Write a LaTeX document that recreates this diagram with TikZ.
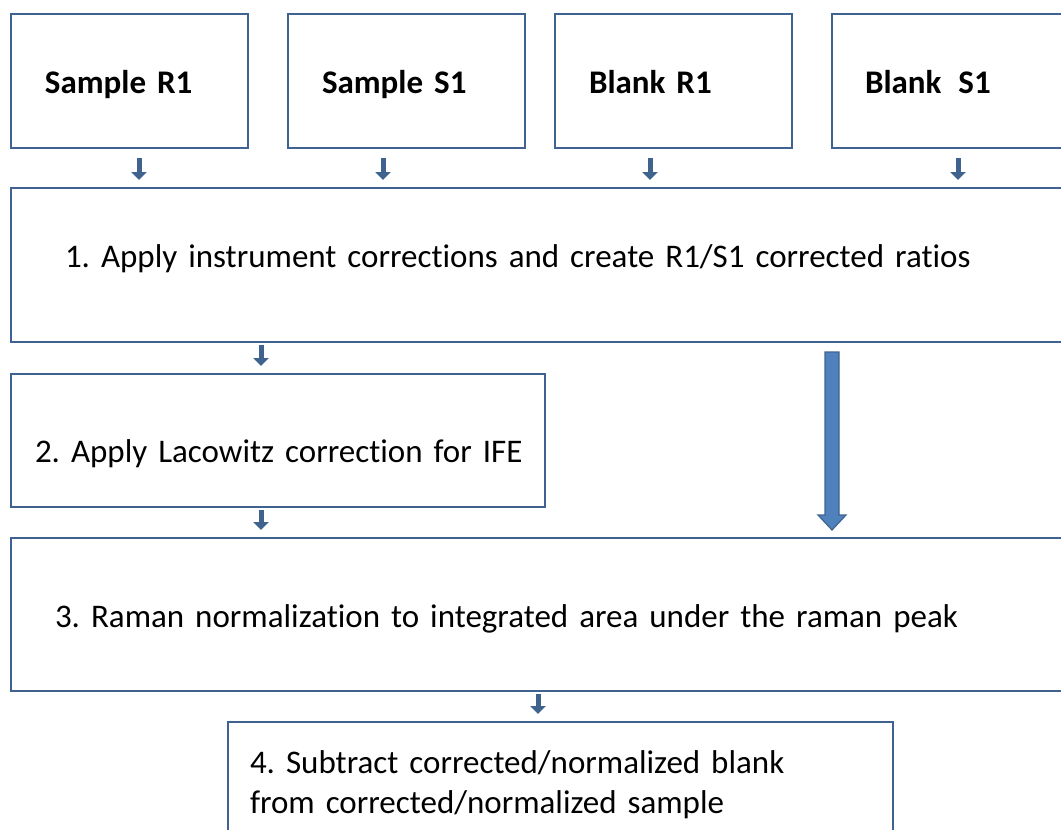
\documentclass[tikz,border=0pt]{standalone}
\usepackage{fontspec}
\setmainfont{Carlito}[Ligatures=NoCommon]
\usetikzlibrary{arrows.meta, calc}

\definecolor{boxline}{HTML}{3F6290}
\definecolor{arrowline}{HTML}{40628F}
\definecolor{arrowfill}{HTML}{4F81BD}

\frenchspacing
\begin{document}
\begin{tikzpicture}[
		x=1pt, y=-1pt,
		every node/.style={font=\fontsize{33}{40}\selectfont},
		box/.style={rectangle, draw=boxline, line width=2.5pt, fill=white, outer sep=0pt, inner ysep=0pt, align=left, anchor=north west},
		sample/.style={box, font=\fontsize{33}{40}\selectfont\bfseries, inner xsep=34pt, text width=169pt, text height=79pt, text depth=55pt},
		link/.style={draw=arrowline, line width=5pt, -{Triangle[width=15pt,length=8pt]}, shorten <=3pt, shorten >=8pt},
		bigarrow/.style={fill=arrowfill, draw=arrowline, line width=1.2pt, line join=miter}
		]
		\useasboundingbox (0,0) rectangle (1061,830);
		\clip (0,0) rectangle (1061,830);
		
		% Measurements
		\node[sample] (r1) at (11,14) {Sample R1};
		\node[sample] (s1) at (288,14) {Sample S1};
		\node[sample] (br1) at (555,14) {Blank R1};
		\node[sample, inner xsep=33pt, text width=171pt] (bs1) at (832,14) {Blank\hspace{17pt}S1};
		
		% Processing steps
		\node[box, inner xsep=54pt, text width=992pt, text height=79pt, text depth=75pt] (step1) at (11,188)
			{1. Apply instrument corrections and create R1/S1 corrected ratios};
		\node[box, inner xsep=24pt, text width=486pt, text height=88pt, text depth=45pt] (step2) at (11,374)
			{\mbox{2. Apply Lacowitz correction for IFE}};
		\node[box, inner xsep=44pt, text width=1012pt, text height=89pt, text depth=64pt] (step3) at (11,538)
			{3. Raman normalization to integrated area under the raman peak};
		\node[box, inner xsep=22pt, text width=621pt, text height=51pt, text depth=110pt] (step4) at (228,722)
			{4. Subtract corrected/normalized blank\\from corrected/normalized sample};
		
		% Arrows into step 1
		\draw[link, shorten <=10pt] ([xshift=9.5pt]r1.south) -- ([xshift=9.5pt]r1.south |- step1.north);
		\draw[link, shorten <=10pt] ([xshift=-23.5pt]s1.south) -- ([xshift=-23.5pt]s1.south |- step1.north);
		\draw[link, shorten <=10pt] ([xshift=-23.5pt]br1.south) -- ([xshift=-23.5pt]br1.south |- step1.north);
		\draw[link, shorten <=10pt] ([xshift=7.5pt]bs1.south) -- ([xshift=7.5pt]bs1.south |- step1.north);
		
		% Step to step
		\coordinate (joinA) at ([xshift=-17pt]step2.north);
		\coordinate (joinB) at ([xshift=-17pt]step2.south);
		\coordinate (joinC) at ([xshift=-22.5pt]step4.north);
		\draw[link] (step1.south -| joinA) -- (joinA);
		\draw[link] (joinB) -- (step3.north -| joinB);
		\draw[link] (step3.south -| joinC) -- (joinC);
		
		% Blank path skips the IFE correction
		\coordinate (bypass) at (832,0);
		\path (step1.south -| bypass) ++(0,10) coordinate (bigtail);
		\path (step3.north -| bypass) ++(0,-8) coordinate (bighead);
		\filldraw[bigarrow] ($(bigtail)+(-7,0)$) -- ($(bigtail)+(7,0)$) -- ($(bighead)+(7,-15)$)
			-- ($(bighead)+(14,-15)$) -- (bighead) -- ($(bighead)+(-14,-15)$) -- ($(bighead)+(-7,-15)$) -- cycle;
\end{tikzpicture}
\end{document}
